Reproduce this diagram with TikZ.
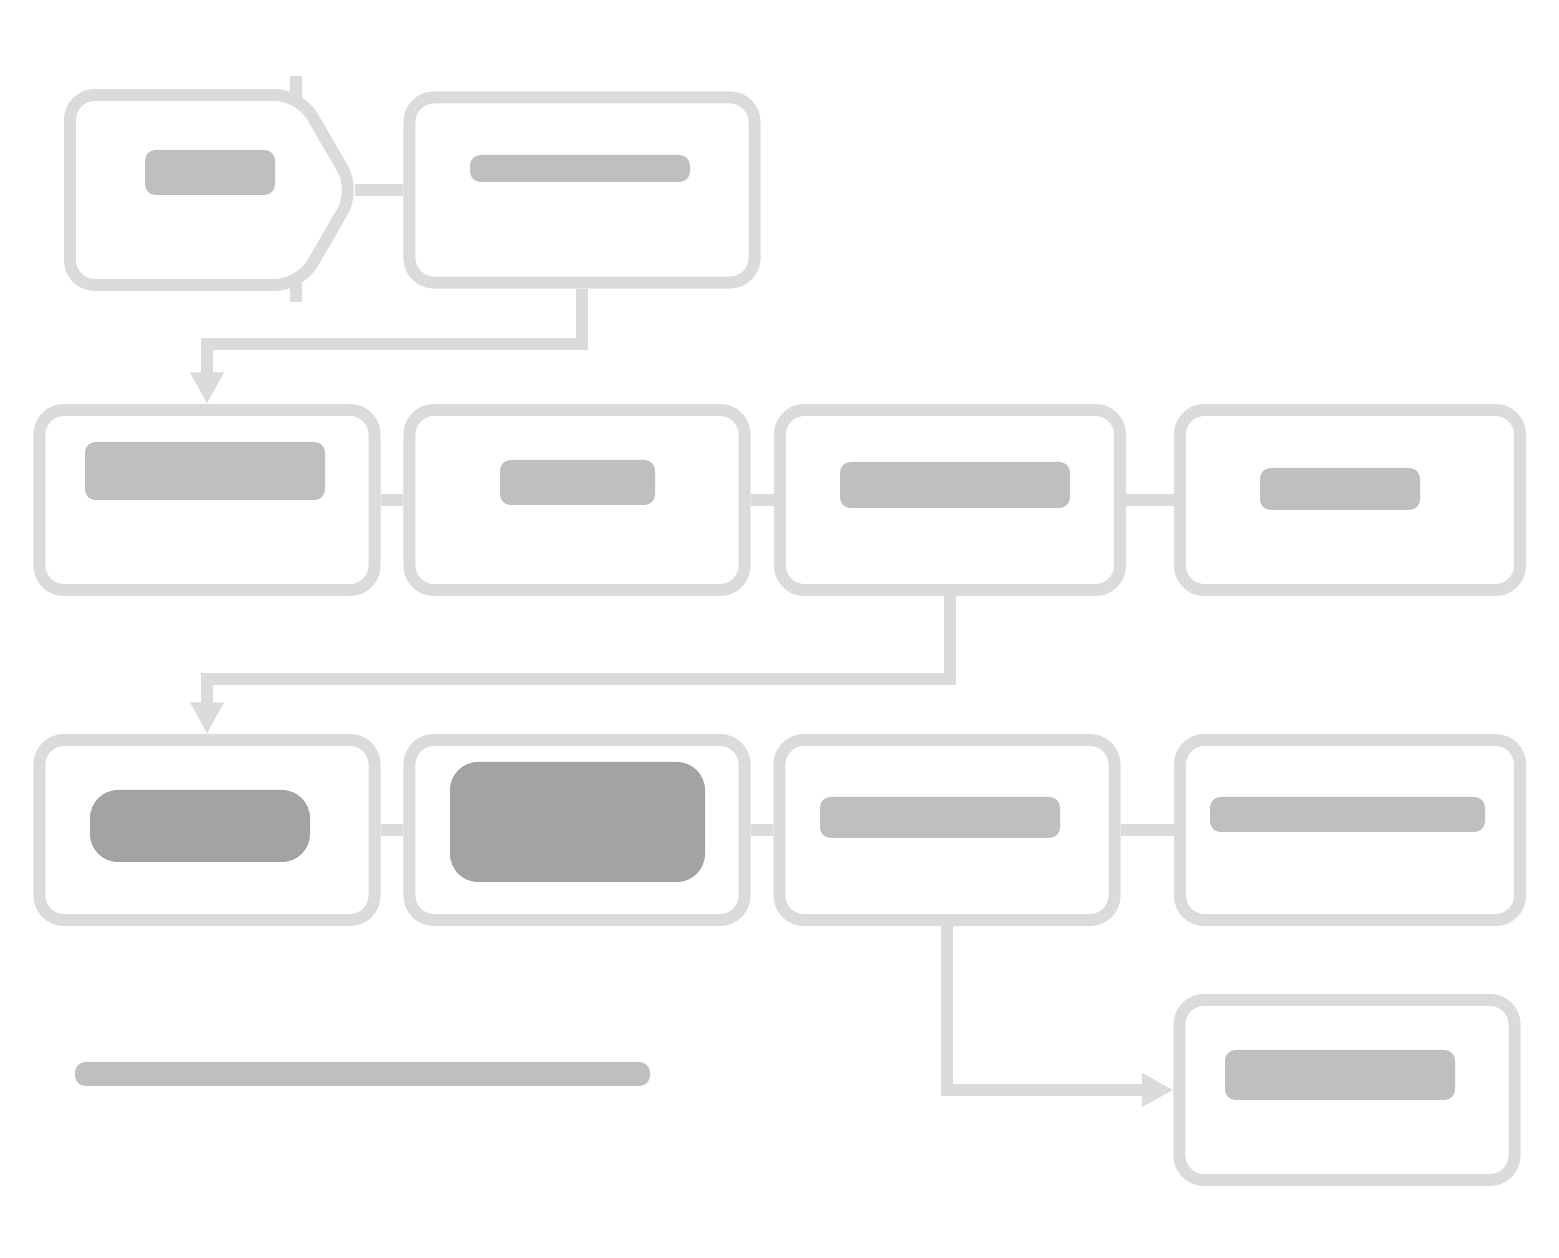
\documentclass[tikz,border=0pt]{standalone}
\usetikzlibrary{arrows.meta}
\begin{document}
\begin{tikzpicture}[x=0.01cm,y=-0.01cm,
  boxline/.style={draw=black!14,line width=3.4pt,rounded corners=7pt},
  stepbox/.style={boxline,rectangle,minimum width=3.35cm,minimum height=1.8cm,fill=white,inner sep=0pt},
  link/.style={draw=black!14,line width=3.4pt},
  tipped/.style={link,-{Triangle[length=9pt,width=9pt]}},
  blob/.style={fill=black!25,rounded corners=3pt},
  darkblob/.style={fill=black!36,rounded corners=8pt}]
\useasboundingbox (0,0) rectangle (1559,1258);
% row 1: chevron box drawn directly, with a named anchor node
\draw[boxline,fill=white] (300,95) -- (70,95) -- (70,285) -- (300,285) -- (355,190) -- cycle;
\draw[link] (296,102) -- (296,76);
\draw[link] (296,280) -- (296,302);
\coordinate (a) at (355,190);
\node[stepbox,minimum width=3.45cm,minimum height=1.85cm] (b) at (582,190) {};
% row 2
\node[stepbox] (c) at (207,500) {};
\node[stepbox] (d) at (577,500) {};
\node[stepbox,minimum width=3.4cm] (e) at (950,500) {};
\node[stepbox,minimum width=3.4cm] (f) at (1350,500) {};
% row 3
\node[stepbox] (g) at (207,830) {};
\node[stepbox] (h) at (577,830) {};
\node[stepbox] (i) at (947,830) {};
\node[stepbox,minimum width=3.4cm] (j) at (1350,830) {};
% row 4
\node[stepbox] (k) at (1347,1090) {};
% text blobs (illegible text)
\fill[blob] (145,150) rectangle (275,195);
\fill[blob] (470,155) rectangle (690,182);
\fill[blob] (85,442) rectangle (325,500);
\fill[blob] (500,460) rectangle (655,505);
\fill[blob] (840,462) rectangle (1070,508);
\fill[blob] (1260,468) rectangle (1420,510);
\fill[darkblob] (90,790) rectangle (310,862);
\fill[darkblob] (450,762) rectangle (705,882);
\fill[blob] (820,797) rectangle (1060,838);
\fill[blob] (1210,797) rectangle (1485,832);
\fill[blob] (1225,1050) rectangle (1455,1100);
\fill[blob] (75,1062) rectangle (650,1086);
% connectors
\draw[link] (a) -- (b.west);
\draw[tipped] (b.south) -- ++(0,55) -| (c.north);
\draw[link] (c.east) -- (d.west);
\draw[link] (d.east) -- (e.west);
\draw[link] (e.east) -- (f.west);
\draw[tipped] (e.south) -- ++(0,83) -| (g.north);
\draw[link] (g.east) -- (h.west);
\draw[link] (h.east) -- (i.west);
\draw[link] (i.east) -- (j.west);
\draw[tipped] (i.south) |- (k.west);
\end{tikzpicture}
\end{document}
